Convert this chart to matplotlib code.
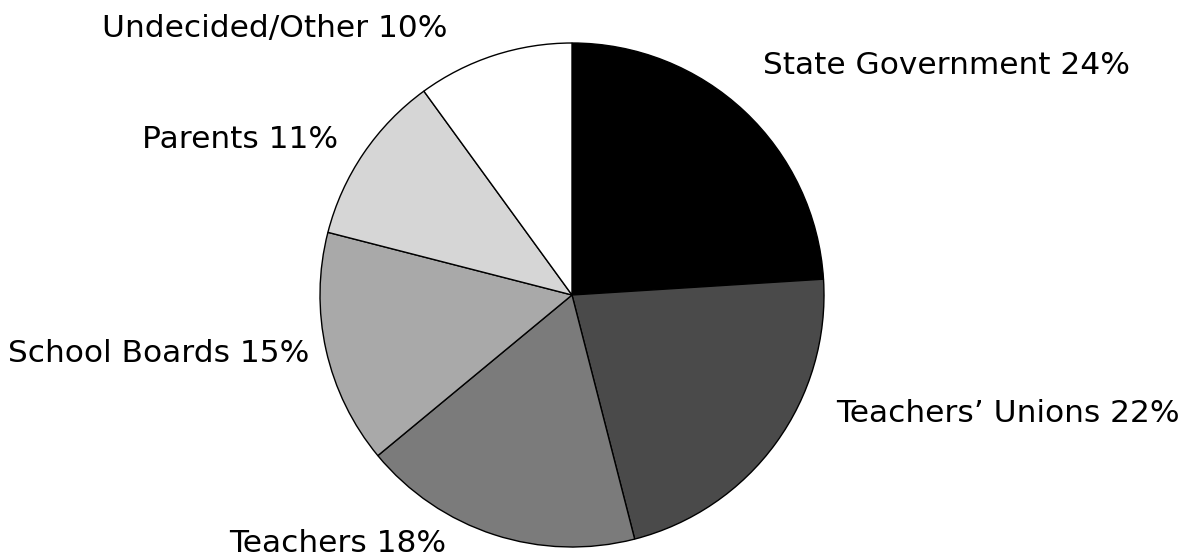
import matplotlib
matplotlib.use("Agg")
import matplotlib.pyplot as plt

# slice data (clockwise from 12 o'clock)
groups = ["State Government", "Teachers\u2019 Unions", "Teachers",
          "School Boards", "Parents", "Undecided/Other"]
shares = [24, 22, 18, 15, 11, 10]
greys = ["#000000", "#4a4a4a", "#7b7b7b", "#a9a9a9", "#d6d6d6", "#ffffff"]

# label centres in pixels of the 1186x559 picture
label_px = [(947, 66), (1008, 414), (338, 544), (159, 354), (240, 139), (275, 29)]

W, H = 1186, 559
cx, cy, R = 572, 295, 252

fig = plt.figure(figsize=(W / 100, H / 100), dpi=100)
ax = fig.add_axes([0, 0, 1, 1])

ax.pie(shares, colors=greys, startangle=90, counterclock=False, radius=1,
       wedgeprops=dict(edgecolor="black", linewidth=1))

ax.set_xlim(-cx / R, (W - cx) / R)
ax.set_ylim(-(H - cy) / R, cy / R)
ax.set_aspect("equal")
ax.axis("off")

for name, pct, (px, py) in zip(groups, shares, label_px):
    ax.text((px - cx) / R, (cy - py) / R, f"{name} {pct}%",
            ha="center", va="center", fontsize=22.5, family="DejaVu Sans")

fig.savefig("out.png", dpi=100)
